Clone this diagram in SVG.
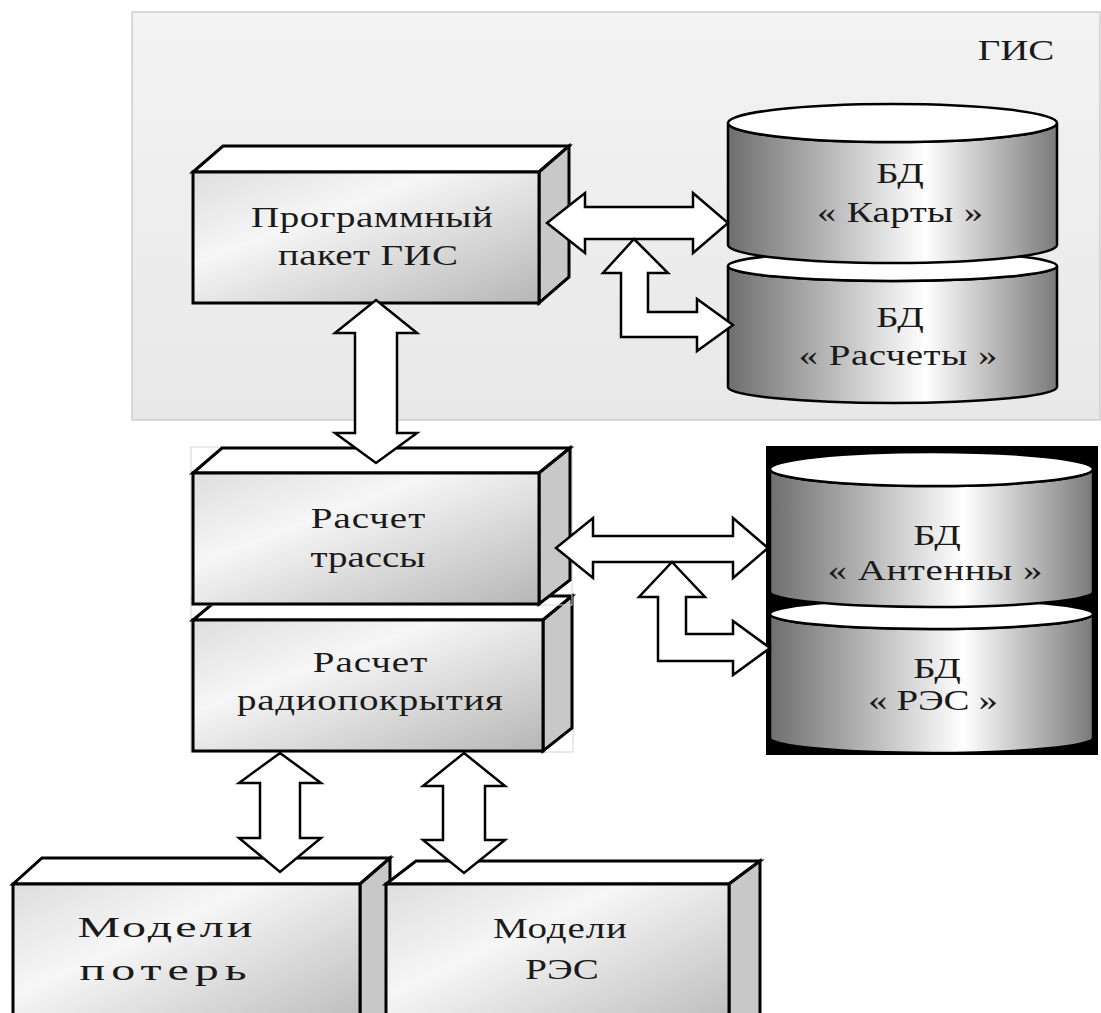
<svg xmlns="http://www.w3.org/2000/svg" width="1101" height="1013" viewBox="0 0 1101 1013">
<defs>
<linearGradient id="front" x1="0" y1="0" x2="1" y2="1">
<stop offset="0" stop-color="#dedede"/>
<stop offset="0.35" stop-color="#f6f6f6"/>
<stop offset="1" stop-color="#b6b6b6"/>
</linearGradient>
<linearGradient id="cyl" x1="0" y1="0" x2="1" y2="0">
<stop offset="0" stop-color="#6e6e6e"/>
<stop offset="0.6" stop-color="#ffffff"/>
<stop offset="1" stop-color="#7a7a7a"/>
</linearGradient>
<linearGradient id="panel" x1="0" y1="0" x2="0" y2="1">
<stop offset="0" stop-color="#f3f3f3"/>
<stop offset="1" stop-color="#e8e8e8"/>
</linearGradient>
</defs>
<style>
.t{font-family:"Liberation Serif","Times New Roman",serif;font-size:30px;fill:#1a1a1a;text-anchor:middle}
.fr{fill:url(#front);stroke:#000;stroke-width:3;stroke-linejoin:miter}
.tp{fill:#fff;stroke:#000;stroke-width:3;stroke-linejoin:miter}
.rt{fill:#c8c8c8;stroke:#000;stroke-width:3;stroke-linejoin:miter}
.cb{fill:url(#cyl);stroke:#000;stroke-width:2.5}
.ce{fill:#fff;stroke:#000;stroke-width:2.5}
.ar{fill:#fff;stroke:#000;stroke-width:2.5;stroke-linejoin:miter}
.bb{fill:none;stroke:#d4d4d4;stroke-width:1}
</style>
<rect x="0" y="0" width="1101" height="1013" fill="#fff"/>
<g id="gis-panel">
<rect x="132" y="12" width="968" height="408" fill="url(#panel)" stroke="#c4c4c4" stroke-width="1.2"/>
<text class="t" transform="translate(1016,60) scale(1.3,1)" textLength="59" lengthAdjust="spacing">ГИС</text>
</g>
<g id="box-gis-package">
<polygon class="tp" points="193,172 223,146 569,146 539,172"/>
<polygon class="rt" points="539,172 569,146 569,277 539,303"/>
<rect class="fr" x="193" y="172" width="346" height="131"/>
<text class="t" transform="translate(372,227) scale(1.3,1)" textLength="186" lengthAdjust="spacing">Программный</text>
<text class="t" transform="translate(368,265) scale(1.3,1)" textLength="138.5" lengthAdjust="spacing">пакет ГИС</text>
</g>
<g id="db-calc">
<path class="cb" d="M728,266 V387 A164.5,16 0 0 0 1057,387 V266 A164.5,15 0 0 1 728,266 Z"/>
<ellipse class="ce" cx="892.5" cy="266" rx="164.5" ry="15"/>
<text class="t" transform="translate(900,327) scale(1.3,1)">БД</text>
<text class="t" transform="translate(898,365) scale(1.3,1)" textLength="153" lengthAdjust="spacing">« Расчеты »</text>
</g>
<g id="db-maps">
<path class="cb" d="M728,123 V245 A164.5,18 0 0 0 1057,245 V123 A164.5,19 0 0 1 728,123 Z"/>
<ellipse class="ce" cx="892.5" cy="123" rx="164.5" ry="19"/>
<text class="t" transform="translate(900,183) scale(1.3,1)">БД</text>
<text class="t" transform="translate(900,222) scale(1.3,1)" textLength="128" lengthAdjust="spacing">« Карты »</text>
</g>
<g id="box-coverage">
<rect class="bb" x="191" y="596" width="382" height="156"/>
<polygon class="tp" points="193,620 222,596 572,596 543,620"/>
<polygon class="rt" points="543,620 572,596 572,728 543,751"/>
<rect class="fr" x="193" y="620" width="350" height="131"/>
<text class="t" transform="translate(370,672) scale(1.3,1)" textLength="88" lengthAdjust="spacing">Расчет</text>
<text class="t" transform="translate(370,710) scale(1.3,1)" textLength="204.5" lengthAdjust="spacing">радиопокрытия</text>
</g>
<g id="box-route">
<rect class="bb" x="191" y="447" width="381" height="158"/>
<polygon class="tp" points="193,473 222,448 570,448 539,473"/>
<polygon class="rt" points="539,473 570,448 570,580 539,604"/>
<rect class="fr" x="193" y="473" width="346" height="131"/>
<text class="t" transform="translate(368,528) scale(1.3,1)" textLength="88" lengthAdjust="spacing">Расчет</text>
<text class="t" transform="translate(368,567) scale(1.3,1)" textLength="88.5" lengthAdjust="spacing">трассы</text>
</g>
<g id="db-antenna-res">
<rect x="766" y="446" width="332" height="309" fill="#000"/>
<g id="db-res">
<path class="cb" d="M770,614 V738 A161.5,15 0 0 0 1093,738 V614 A161.5,15 0 0 1 770,614 Z"/>
<ellipse class="ce" cx="931.5" cy="614" rx="161.5" ry="15"/>
<text class="t" transform="translate(937,678) scale(1.3,1)">БД</text>
<text class="t" transform="translate(933,710) scale(1.3,1)" textLength="100" lengthAdjust="spacing">« РЭС »</text>
</g>
<g id="db-antenna">
<path class="cb" d="M770,469 V592 A161.5,15 0 0 0 1093,592 V469 A161.5,17 0 0 1 770,469 Z"/>
<ellipse class="ce" cx="931.5" cy="469" rx="161.5" ry="17"/>
<text class="t" transform="translate(937,545) scale(1.3,1)">БД</text>
<text class="t" transform="translate(935,580) scale(1.3,1)" textLength="165.5" lengthAdjust="spacing">« Антенны »</text>
</g>
</g>
<g id="box-loss-models">
<polygon class="tp" points="13,884 42,858 390,858 360,884"/>
<polygon class="rt" points="360,884 390,858 390,1040 360,1040"/>
<rect class="fr" x="13" y="884" width="347" height="160"/>
<text class="t" transform="translate(165,937) scale(1.6,1)" textLength="109.4" lengthAdjust="spacing">Модели</text>
<text class="t" transform="translate(163,980) scale(1.6,1)" textLength="104.4" lengthAdjust="spacing">потерь</text>
</g>
<g id="box-res-models">
<polygon class="tp" points="386,884 416,861 760,861 729,884"/>
<polygon class="rt" points="729,884 760,861 760,1040 729,1040"/>
<rect class="fr" x="386" y="884" width="343" height="160"/>
<text class="t" transform="translate(560,938) scale(1.3,1)" textLength="103" lengthAdjust="spacing">Модели</text>
<text class="t" transform="translate(562,979) scale(1.3,1)">РЭС</text>
</g>
<g id="connectors">
<polygon class="ar" points="547,223 585,193 585,207 693,207 693,193 728,223 693,253 693,239 585,239 585,253"/>
<polygon class="ar" points="634,239 668,273 648,273 648,312 697,312 697,299 733,325 697,351 697,337 621,337 621,273 603,273"/>
<polygon class="ar" points="376,300 417,333 397,333 397,433 417,433 376,463 335,433 355,433 355,333 335,333"/>
<polygon class="ar" points="556,548 593,518 593,536 733,536 733,518 768,548 733,578 733,562 593,562 593,578"/>
<polygon class="ar" points="672,562 705,597 686,597 686,634 733,634 733,621 770,648 733,675 733,661 658,661 658,597 639,597"/>
<polygon class="ar" points="280,753 321,783 300,783 300,838 321,838 280,872 239,838 260,838 260,783 239,783"/>
<polygon class="ar" points="464,753 505,786 485,786 485,840 505,840 464,873 423,840 443,840 443,786 423,786"/>
</g>
</svg>
